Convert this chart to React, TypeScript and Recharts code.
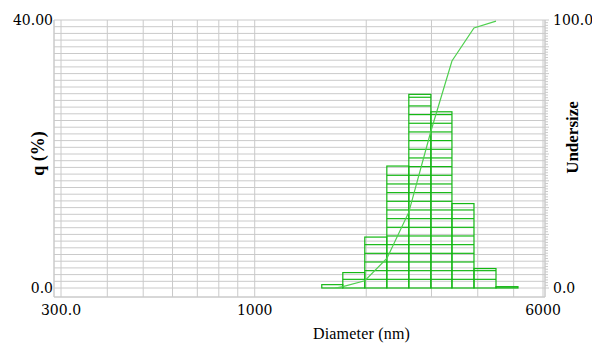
import React from "react";
import {
  ComposedChart,
  Line,
  XAxis,
  YAxis,
  CartesianGrid,
  ReferenceArea,
} from "recharts";

// histogram bins (nm)
const binEdges = [1517, 1729, 1982, 2273, 2606, 2989, 3407, 3907, 4480, 5136];
const qPercent = [0.5, 2.3, 7.6, 18.2, 28.9, 26.3, 12.6, 2.9, 0.2];

// cumulative undersize curve
const undersizeDiameters = [1650, 1729, 1982, 2273, 2606, 2989, 3407, 3907, 4480];
const undersizeValues = [0, 0.5, 2.7, 11.0, 28.3, 58.5, 84.7, 97.0, 99.6];

const xTicks = [300, 400, 500, 600, 700, 800, 900, 1000, 2000, 3000, 4000, 5000, 6000];
const xTickLabels: Record<number, string> = { 300: "300.0", 1000: "1000", 6000: "6000" };
const qTicks = Array.from({ length: 41 }, (_, i) => i);
const undersizeTicks = Array.from({ length: 101 }, (_, i) => i);

const GREEN = "#14b814";
const LINE_GREEN = "#4fd04f";
const GRID = "#cacaca";
const STRIPE = 8.67;

const undersizeData = undersizeDiameters.map((d, i) => ({ d, u: undersizeValues[i] }));
const bins = qPercent.map((q, i) => ({ lo: binEdges[i], hi: binEdges[i + 1], q }));
// gives the q axis a series of its own (drawn invisibly, bars come from ReferenceArea)
const binData = bins.map((b) => ({ d: b.lo, q: b.q }));

function StripedBar(props: any) {
  const { x, y, width, height } = props;
  const base = y + height;
  const stripes = [];
  for (let ly = base - STRIPE; ly > y + 1; ly -= STRIPE) {
    stripes.push(<line key={ly} x1={x} x2={x + width} y1={ly} y2={ly} />);
  }
  return (
    <g stroke={GREEN} strokeWidth={1.2} fill="none">
      <rect x={x} y={y} width={width} height={height} />
      {stripes}
    </g>
  );
}

function RightTick(props: any) {
  const { x, y, payload } = props;
  const v = payload.value as number;
  return (
    <g>
      <line x1={x} x2={x + (v % 10 === 0 ? 4 : 3)} y1={y} y2={y} stroke={GRID} />
      {(v === 0 || v === 100) && (
        <text
          x={x + 8}
          y={y}
          dy="0.35em"
          fill="#000"
          fontSize={14}
          fontFamily="DejaVu Serif"
          textAnchor="start"
        >
          {v.toFixed(1)}
        </text>
      )}
    </g>
  );
}

export default function App() {
  return (
    <div style={{ position: "absolute", left: 0, top: 0, width: 592, height: 345, background: "#fff" }}>
      <ComposedChart
        width={592}
        height={345}
        data={undersizeData}
        margin={{ top: 20, right: 0, bottom: 0, left: 0 }}
      >
        <CartesianGrid yAxisId="q" stroke={GRID} strokeWidth={1} />
        <XAxis
          dataKey="d"
          type="number"
          scale="log"
          domain={[300, 6000]}
          allowDataOverflow
          ticks={xTicks}
          interval={0}
          padding={{ left: 7, right: 2 }}
          height={48}
          stroke={GRID}
          tickLine={false}
          tickFormatter={(v: number) => xTickLabels[v] ?? ""}
          tick={{ fill: "#000", fontSize: 14, fontFamily: "DejaVu Serif" }}
          label={{
            value: "Diameter (nm)",
            position: "center",
            dx: 62,
            dy: 12,
            fill: "#000",
            fontSize: 16,
            fontFamily: "Liberation Serif",
            letterSpacing: 0.2,
          }}
        />
        <YAxis
          yAxisId="q"
          orientation="left"
          type="number"
          domain={[0, 40]}
          allowDataOverflow
          ticks={qTicks}
          interval={0}
          width={54}
          padding={{ top: 0, bottom: 9 }}
          stroke={GRID}
          tickLine={false}
          tickSize={0}
          tickMargin={1}
          tickFormatter={(v: number) => (v === 40 ? "40.00" : v === 0 ? "0.0" : "")}
          tick={{ fill: "#000", fontSize: 14, fontFamily: "DejaVu Serif" }}
          label={{
            value: "q (%)",
            angle: -90,
            position: "center",
            dx: 11,
            dy: -5,
            fill: "#000",
            fontSize: 18,
            fontWeight: "bold",
            fontFamily: "Liberation Serif",
          }}
        />
        <YAxis
          yAxisId="u"
          orientation="right"
          type="number"
          domain={[0, 100]}
          allowDataOverflow
          ticks={undersizeTicks}
          interval={0}
          width={47}
          padding={{ top: 0, bottom: 9 }}
          stroke={GRID}
          tickLine={false}
          tickSize={0}
          tickMargin={0}
          tick={<RightTick />}
          label={{
            value: "Undersize",
            angle: -90,
            position: "center",
            dx: 3,
            dy: -21,
            fill: "#000",
            fontSize: 17,
            fontWeight: "bold",
            fontFamily: "Liberation Serif",
          }}
        />
        <Line
          yAxisId="q"
          data={binData}
          dataKey="q"
          stroke="none"
          dot={false}
          activeDot={false}
          legendType="none"
          isAnimationActive={false}
        />
        {bins.map((b) => (
          <ReferenceArea
            key={b.lo}
            yAxisId="q"
            x1={b.lo}
            x2={b.hi}
            y1={0}
            y2={b.q}
            ifOverflow="visible"
            shape={StripedBar}
          />
        ))}
        <Line
          yAxisId="u"
          type="linear"
          dataKey="u"
          stroke={LINE_GREEN}
          strokeWidth={1.2}
          dot={false}
          isAnimationActive={false}
        />
      </ComposedChart>
    </div>
  );
}
